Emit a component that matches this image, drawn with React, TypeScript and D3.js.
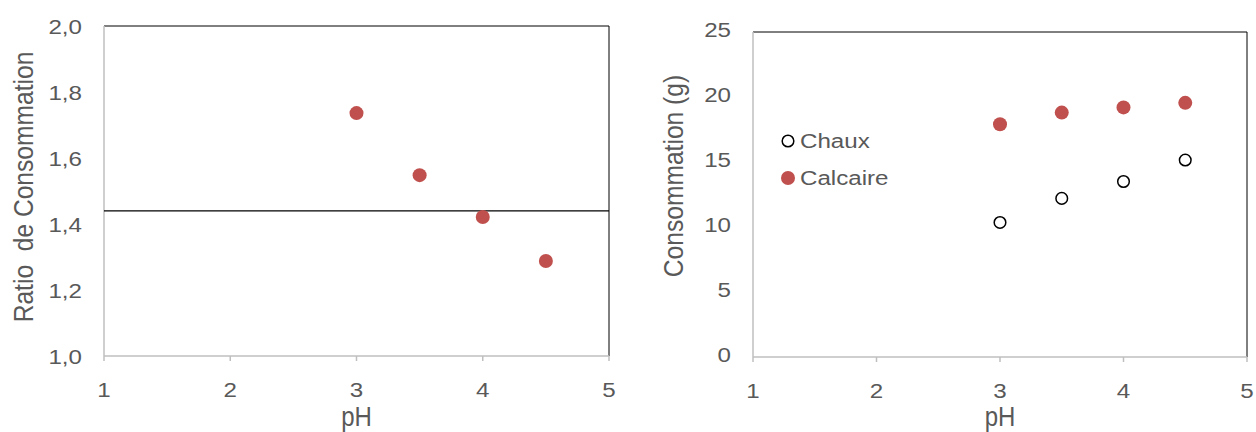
import React from "react";
import * as d3 from "d3";

const phValues = [3, 3.5, 4, 4.5];
const ratioValues = [1.736, 1.548, 1.421, 1.288];
const ratioReference = 1.44;
const chauxValues = [10.35, 12.2, 13.5, 15.15];
const calcaireValues = [17.9, 18.8, 19.2, 19.55];
const xTicks = [1, 2, 3, 4, 5];
const leftYTicks = [1.0, 1.2, 1.4, 1.6, 1.8, 2.0];
const rightYTicks = [0, 5, 10, 15, 20, 25];
const seriesNames = ["Chaux", "Calcaire"];

const RED = "#C0504D";
const TXT = "#595959";
const AX = "#BFBFBF";
const FONT = "'Liberation Sans', Arial, sans-serif";

function T({ x, y, anchor = "start", size = 21, rotate = 0, sx = 1.15, sy = 1, children }: any) {
  return (
    <text
      transform={`translate(${x},${y})${rotate ? ` rotate(${rotate})` : ""} scale(${sx},${sy})`}
      textAnchor={anchor}
      fontSize={size}
      fill={TXT}
      fontFamily={FONT}
      style={{ whiteSpace: "pre" }}
    >
      {children}
    </text>
  );
}

function Panel({ x0, x1, y0, y1, yDomain, yTicks, fmt, yLabel, yLabelX, yLabelY, tickDy, children }: any) {
  const xs = d3.scaleLinear().domain([1, 5]).range([x0, x1]);
  const ys = d3.scaleLinear().domain(yDomain).range([y1, y0]);
  return (
    <g>
      <line x1={x0} y1={y0} x2={x1} y2={y0} stroke="#000" strokeWidth={1} />
      <line x1={x1} y1={y0} x2={x1} y2={y1} stroke="#000" strokeWidth={1} />
      <line x1={x0} y1={y0} x2={x0} y2={y1} stroke={AX} strokeWidth={1.5} />
      <line x1={x0} y1={y1} x2={x1} y2={y1} stroke={AX} strokeWidth={1.5} />
      {xTicks.map((t) => (
        <g key={t}>
          <line x1={xs(t)} x2={xs(t)} y1={y1} y2={y1 + 5} stroke={AX} strokeWidth={1.5} />
          <T x={xs(t)} y={y1 + 41} anchor="middle">{t}</T>
        </g>
      ))}
      {yTicks.map((t: number) => (
        <T key={t} x={x0 - 22} y={ys(t) + tickDy} anchor="end">{fmt(t)}</T>
      ))}
      <T x={(x0 + x1) / 2} y={426} anchor="middle" size={24} sx={1} sy={1.15}>pH</T>
      <T x={yLabelX} y={yLabelY} anchor="middle" size={24.6} rotate={-90} sx={1} sy={1.15}>{yLabel}</T>
      {children(xs, ys)}
    </g>
  );
}

export default function App() {
  return (
    <svg width={1256} height={432} style={{ display: "block", position: "absolute", left: 0, top: 0 }}>
      <rect width={1256} height={432} fill="#fff" />
      <Panel x0={104} x1={609} y0={26} y1={356} yDomain={[1, 2]} yTicks={leftYTicks} tickDy={8}
        fmt={(t: number) => t.toFixed(1).replace(".", ",")} yLabel={"Ratio  de Consommation"} yLabelX={33} yLabelY={187}>
        {(xs: any, ys: any) => (
          <g>
            <line x1={xs(1)} x2={xs(5)} y1={ys(ratioReference)} y2={ys(ratioReference)} stroke="#000" strokeWidth={1.3} />
            {phValues.map((p, i) => (
              <circle key={i} cx={xs(p)} cy={ys(ratioValues[i])} r={7} fill={RED} />
            ))}
          </g>
        )}
      </Panel>
      <Panel x0={753} x1={1247} y0={32} y1={357} yDomain={[0, 25]} yTicks={rightYTicks} tickDy={5}
        fmt={(t: number) => String(t)} yLabel={"Consommation (g)"} yLabelX={683} yLabelY={176}>
        {(xs: any, ys: any) => (
          <g>
            {phValues.map((p, i) => (
              <circle key={"c" + i} cx={xs(p)} cy={ys(chauxValues[i])} r={5.8} fill="#fff" stroke="#000" strokeWidth={1.5} />
            ))}
            {phValues.map((p, i) => (
              <circle key={"k" + i} cx={xs(p)} cy={ys(calcaireValues[i])} r={7} fill={RED} />
            ))}
          </g>
        )}
      </Panel>
      <g>
        <circle cx={788} cy={141} r={5.8} fill="#fff" stroke="#000" strokeWidth={1.5} />
        <T x={800} y={148}>{seriesNames[0]}</T>
        <circle cx={788} cy={178} r={7} fill={RED} />
        <T x={800} y={185}>{seriesNames[1]}</T>
      </g>
    </svg>
  );
}
